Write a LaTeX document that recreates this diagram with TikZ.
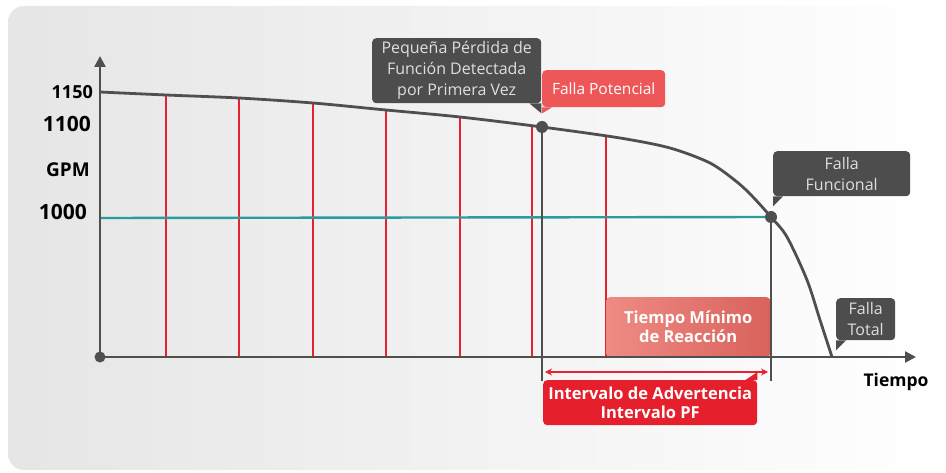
\documentclass[tikz,border=0pt]{standalone}
\usepackage{fontspec}
\setmainfont{Open Sans}
\usepackage{xcolor}
\usetikzlibrary{arrows.meta}

\definecolor{axisgray}{HTML}{4F4F4F}
\definecolor{boxgray}{HTML}{4D4D4D}
\definecolor{boxtext}{HTML}{DEDEDE}
\definecolor{linered}{HTML}{E52330}
\definecolor{potred}{HTML}{EE5757}
\definecolor{intred}{HTML}{E51F2B}
\definecolor{reacl}{HTML}{EE8B84}
\definecolor{reacr}{HTML}{D9625C}
\definecolor{teal}{HTML}{2C9BA0}

\tikzset{
  axis/.style={draw=axisgray, line width=2.4pt},
  darkbox/.style={fill=boxgray, rounded corners=4pt, text=boxtext, align=center,
    font=\fontsize{16}{21}\selectfont, inner sep=0pt},
  redbox/.style={fill=#1, rounded corners=4pt, text=white, align=center, inner sep=0pt},
  tick/.style={font=\fontsize{#1}{#1}\selectfont\bfseries, anchor=east, inner sep=0pt},
  dot/.style={fill=axisgray}
}

\begin{document}
\begin{tikzpicture}[x=1pt, y=-1pt]
  \useasboundingbox (0,0) rectangle (946,473);
  \shade[left color=black!10, right color=white, rounded corners=16pt]
    (8,6) rectangle (944,470);

  \coordinate (orig) at (100,357);
  \coordinate (ptop) at (100,56);
  \coordinate (pend) at (916,357);
  \coordinate (pf) at (542,127);
  \coordinate (ff) at (771,217);

  \begin{scope}
    \clip (orig) -- plot[smooth] coordinates {(100,92) (166,95) (239,98) (313,103)
      (386,110) (460,117) (542,127) (620,138) (670,148) (710,163) (737,182)
      (753,197) (771,217) (787,237) (807,280) (820,320) (832,357)} -- cycle;
    \foreach \xx in {166,239,313,386,460,532,606}
      \draw[linered, line width=1.6pt] (\xx,60) -- (\xx,357);
  \end{scope}

  \node[redbox={reacl}, minimum width=164, minimum height=60, anchor=north west,
    left color=reacl, right color=reacr, font=\fontsize{16.5}{19}\selectfont\bfseries]
    (reac) at (606,297) {Tiempo Mínimo\\de Reacción};

  \draw[teal, line width=2.4pt] (100,218) -- (ff);
  \draw[axisgray, line width=2pt] (pf) -- (542,381);
  \draw[axisgray, line width=2pt] (ff) -- (771,381);

  \draw[axis, -{Triangle[length=11pt, width=11pt]}] (orig) -- (ptop);
  \draw[axis, -{Triangle[length=11pt, width=11pt]}] (orig) -- (pend);
  \draw[axisgray, line width=2.8pt] plot[smooth] coordinates {(100,92) (166,95)
    (239,98) (313,103) (386,110) (460,117) (542,127) (620,138) (670,148) (710,163)
    (737,182) (753,197) (771,217) (787,237) (807,280) (820,320) (832,357)};
  \fill[dot] (orig) circle (5.5);
  \fill[dot] (pf) circle (6);
  \fill[dot] (ff) circle (6);

  \draw[linered, line width=2pt, {Stealth[length=7pt, width=7pt]}-{Stealth[length=7pt, width=7pt]}]
    (545,372) -- (768,372);

  \node[tick=18] (l1150) at (93,92) {1150};
  \node[tick=21] (l1100) at (91,124) {1100};
  \node[tick=19] (lgpm) at (90,170) {GPM};
  \node[tick=21] (l1000) at (87,212) {1000};
  \node[font=\fontsize{17.5}{17.5}\selectfont\bfseries] (tiempo) at (896,382) {Tiempo};

  \node[darkbox, minimum width=169, minimum height=65, anchor=north west]
    (perdida) at (372,38) {Pequeña Pérdida de\\Función Detectada\\por Primera Vez};
  \fill[boxgray] (perdida.south east) -- ++(0,10) -- ++(-12,-10) -- cycle;

  \node[redbox={potred}, minimum width=123, minimum height=37, anchor=north west,
    font=\fontsize{15.5}{18}\selectfont] (potencial) at (542,70) {Falla Potencial};
  \fill[potred] (potencial.south west) -- ++(0,6) -- ++(10,-6) -- cycle;

  \node[darkbox, minimum width=137, minimum height=45, anchor=north west]
    (funcional) at (773,151) {Falla\\Funcional};
  \fill[boxgray] (funcional.south west) -- ++(0,10) -- ++(10,-10) -- cycle;

  \node[darkbox, minimum width=59, minimum height=42, anchor=north west]
    (total) at (836,298) {Falla\\Total};
  \fill[boxgray] (total.south west) -- ++(0,10) -- ++(10,-10) -- cycle;

  \node[redbox={intred}, minimum width=214, minimum height=45, anchor=north west,
    font=\fontsize{16.5}{19}\selectfont\bfseries]
    (intervalo) at (543,380) {Intervalo de Advertencia\\Intervalo PF};
  \fill[intred] (intervalo.north east) -- ++(0,-8) -- ++(-12,8) -- cycle;
\end{tikzpicture}
\end{document}
